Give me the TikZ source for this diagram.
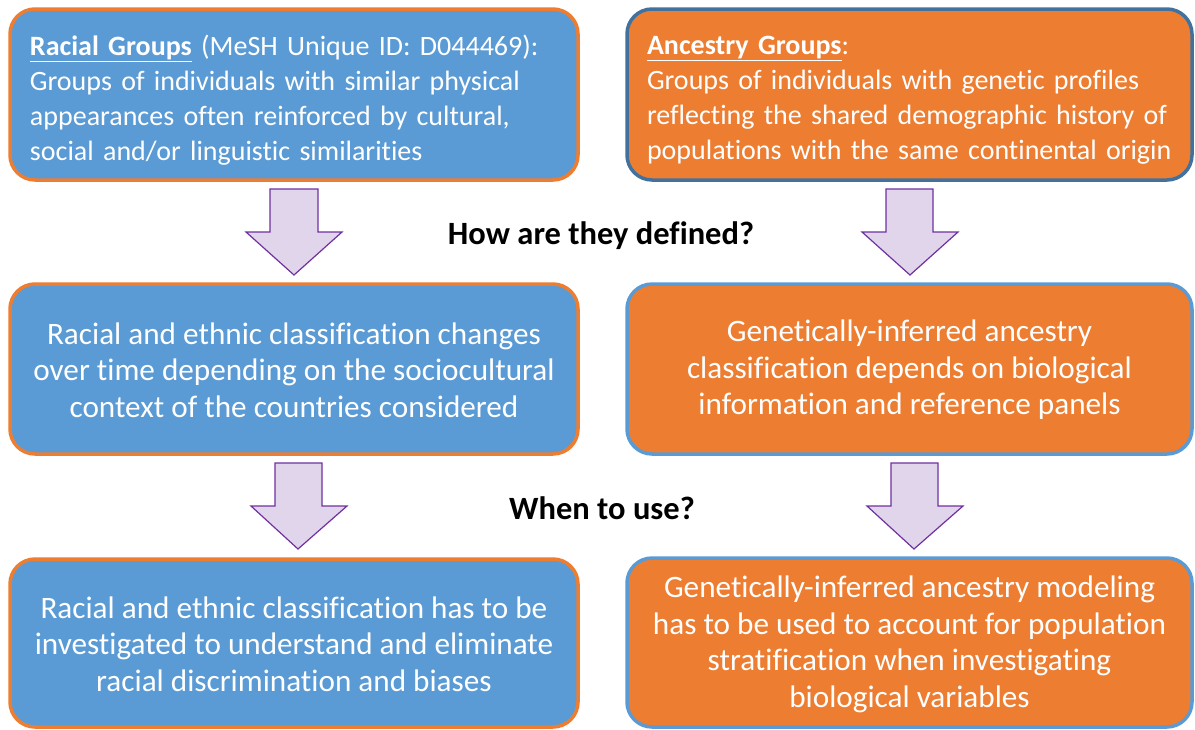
\documentclass[tikz,border=0pt]{standalone}
\usepackage{fontspec}
\setmainfont[Ligatures=NoCommon]{Carlito}
\definecolor{bfill}{RGB}{91,155,213}
\definecolor{ofill}{RGB}{237,125,49}
\definecolor{dblue}{RGB}{65,113,156}
\definecolor{afill}{RGB}{225,213,236}
\definecolor{aline}{RGB}{112,48,160}
\begin{document}
\begin{tikzpicture}[x=1pt,y=-1pt,
  box/.style={draw, line width=3.5pt, rounded corners=25pt, inner sep=0pt},
  rbox/.style={box, fill=bfill, draw=ofill},
  obox/.style={box, fill=ofill, draw=bfill},
  toptext/.style={text=white, font=\fontsize{28}{35}\selectfont, inner sep=0pt, align=left},
  midtext/.style={text=white, font=\fontsize{31.2}{36.5}\selectfont, inner sep=0pt, align=center},
  barrow/.style={draw=aline, fill=afill, line width=1.2pt, line join=miter},
  qtext/.style={font=\fontsize{32.5}{38}\selectfont\bfseries, text=black}
]
\useasboundingbox (0,0) rectangle (1195,729);
% boxes
\node[rbox, minimum width=568pt, minimum height=171pt] (r1) at (294,94.5) {};
\node[obox, draw=dblue, minimum width=565pt, minimum height=171pt] (a1) at (909.5,94.5) {};
\node[rbox, minimum width=568pt, minimum height=170pt] (r2) at (294,369) {};
\node[obox, minimum width=565pt, minimum height=170pt] (a2) at (909.5,369) {};
\node[rbox, minimum width=568pt, minimum height=168pt] (r3) at (294,643) {};
\node[obox, minimum width=565pt, minimum height=169pt] (a3) at (909.5,642.5) {};
% texts
\node[toptext, text width=528pt] (t1) at ([yshift=-6pt]r1.center)
  {\underline{\textbf{Racial Groups}} (MeSH Unique ID: D044469):\\
   Groups of individuals with similar physical\\
   appearances often reinforced by cultural,\\
   social and/or linguistic similarities};
\node[toptext, text width=525pt] (t2) at ([yshift=-6pt]a1.center)
  {\underline{\textbf{Ancestry Groups}}:\\
   Groups of individuals with genetic profiles\\
   reflecting the shared demographic history of\\
   populations with the same continental origin};
\node[midtext] (t3) at ([yshift=-1pt]r2.center)
  {Racial and ethnic classification changes\\
   over time depending on the sociocultural\\
   context of the countries considered};
\node[midtext] (t4) at ([yshift=-1pt]a2.center)
  {Genetically-inferred ancestry\\
   classification depends on biological\\
   information and reference panels};
\node[midtext] (t5) at ([yshift=-1pt]r3.center)
  {Racial and ethnic classification has to be\\
   investigated to understand and eliminate\\
   racial discrimination and biases};
\node[midtext] (t6) at ([yshift=-2pt]a3.center)
  {Genetically-inferred ancestry modeling\\
   has to be used to account for population\\
   stratification when investigating\\
   biological variables};
% questions
\node[qtext] (q1) at (601,236) {How are they defined?};
\node[qtext] (q2) at (602,508) {When to use?};
% block arrows
\draw[barrow] (270,189) -- (318,189) -- (318,232) -- (342,232) -- (294,275) -- (246,232) -- (270,232) -- cycle;
\draw[barrow] (886,189) -- (933,189) -- (933,232) -- (958,232) -- (910,275) -- (862,232) -- (886,232) -- cycle;
\draw[barrow] (275,463) -- (322,463) -- (322,506) -- (347,506) -- (298,549) -- (251,506) -- (275,506) -- cycle;
\draw[barrow] (891,463) -- (938,463) -- (938,506) -- (963,506) -- (914,549) -- (867,506) -- (891,506) -- cycle;
\end{tikzpicture}
\end{document}
